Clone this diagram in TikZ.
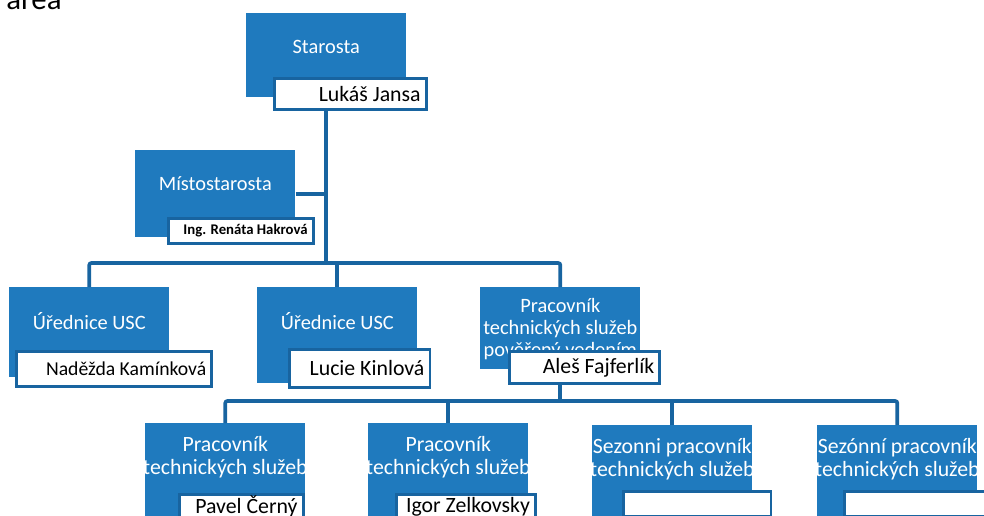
\documentclass[tikz,border=0pt]{standalone}
\usepackage{fontspec}
\setmainfont{Carlito}
\usepackage{xcolor}
\usepackage{tikz}
\usetikzlibrary{calc}

\definecolor{postblue}{RGB}{31,122,190}
\definecolor{lineblue}{RGB}{24,100,160}

\begin{document}
\begin{tikzpicture}[x=0.025cm, y=-0.025cm]

% Define styles
\tikzset{
    postbox/.style={fill=postblue, anchor=north west, minimum width=4cm, minimum height=#1, inner sep=0pt},
    posttitle/.style={text=white, align=center, font=\fontsize{14.5}{15.5}\selectfont},
    posttitlebig/.style={text=white, align=center, font=\fontsize{15.5}{16.5}\selectfont},
    namebox/.style={draw=lineblue, line width=2pt, fill=white, text=black, anchor=north west, text width=#1, align=flush right, inner xsep=4pt, inner ysep=0pt, font=\fontsize{15.5}{17}\selectfont},
    orgline/.style={draw=lineblue, line width=2.6pt, rounded corners=1.5pt}
}

% page size
\useasboundingbox (0,0) rectangle (984,515);

% cut off word at the top
\node[anchor=base west, inner sep=0pt, font=\fontsize{22}{24}\selectfont] (area) at (6,9) {area};

% blue boxes
\node[postbox=2.1cm] (starosta) at (246,13) {};
\node[postbox=2.175cm] (misto) at (135,150) {};
\node[postbox=2.25cm] (urad1) at (9,287) {};
\node[postbox=2.4cm] (urad2) at (257,287) {};
\node[postbox=2.05cm] (tech) at (480,287) {};
\node[postbox=2.6cm] (pracA) at (145,423) {};
\node[postbox=2.6cm] (pracB) at (368,423) {};
\node[postbox=2.6cm] (pracC) at (592,425) {};
\node[postbox=2.6cm] (pracD) at (817,425) {};

% titles
\node[posttitle] (starostaT) at ($(starosta.north)+(0,34)$) {Starosta};
\node[posttitle] (mistoT) at ($(misto.north)+(0,34)$) {Místostarosta};
\node[posttitle] (urad1T) at ($(urad1.north)+(0,34)$) {Úřednice USC};
\node[posttitle] (urad2T) at ($(urad2.north)+(0,34)$) {Úřednice USC};
\node[posttitle] (techT) at ($(tech.north)+(0,42)$) {Pracovník\\technických služeb\\pověřený vedením};
\node[posttitlebig] (pracAT) at ($(pracA.north)+(0,34)$) {Pracovník\\technických služeb};
\node[posttitlebig] (pracBT) at ($(pracB.north)+(0,34)$) {Pracovník\\technických služeb};
\node[posttitlebig] (pracCT) at ($(pracC.north)+(0,34)$) {Sezonni pracovník\\technických služeb};
\node[posttitlebig] (pracDT) at ($(pracD.north)+(0,34)$) {Sezónní pracovník\\technických služeb};

% name boxes
\node[namebox=100pt, minimum height=0.775cm] (starostaN) at (273,77) {Lukáš Jansa};
\node[namebox=95pt, minimum height=0.625cm, font=\fontsize{10.5}{12}\selectfont\bfseries] (mistoN) at (167,217) {Ing. Renáta Hakrová};
\node[namebox=131pt, minimum height=0.875cm, font=\fontsize{14}{16}\selectfont] (urad1N) at (15,350) {Naděžda Kamínková};
\node[namebox=92pt, minimum height=0.95cm] (urad2N) at (288,348) {Lucie Kinlová};
\node[namebox=99pt, minimum height=0.8cm] (techN) at (508,350) {Aleš Fajferlík};
\node[namebox=80pt, minimum height=0.62cm] (pracAN) at (178,493) {Pavel Černý};
\node[namebox=91pt, minimum height=0.62cm] (pracBN) at (395,493) {Igor Zelkovsky};
\node[namebox=97pt, minimum height=0.62cm] (pracCN) at (622,490) {};
\node[namebox=104pt, minimum height=0.62cm] (pracDN) at (843,490) {};

%height of the two bus lines
\coordinate (bus1) at (0,263);
\coordinate (bus2) at (0,401);

% connectors
\draw[orgline] (starosta.south |- starostaN.south) -- (starosta.south |- bus1);
\draw[orgline] (misto.east) -- (misto.east -| starosta.south);
\draw[orgline] (urad1.north) |- (bus1 -| tech.north) -- (tech.north);
\draw[orgline] (urad2.north) -- (urad2.north |- bus1);
\draw[orgline] (tech.south |- techN.south) -- (tech.south |- bus2);
\draw[orgline] (pracA.north) |- (bus2 -| pracD.north) -- (pracD.north);
\draw[orgline] (pracB.north) -- (pracB.north |- bus2);
\draw[orgline] (pracC.north) -- (pracC.north |- bus2);

\end{tikzpicture}
\end{document}
